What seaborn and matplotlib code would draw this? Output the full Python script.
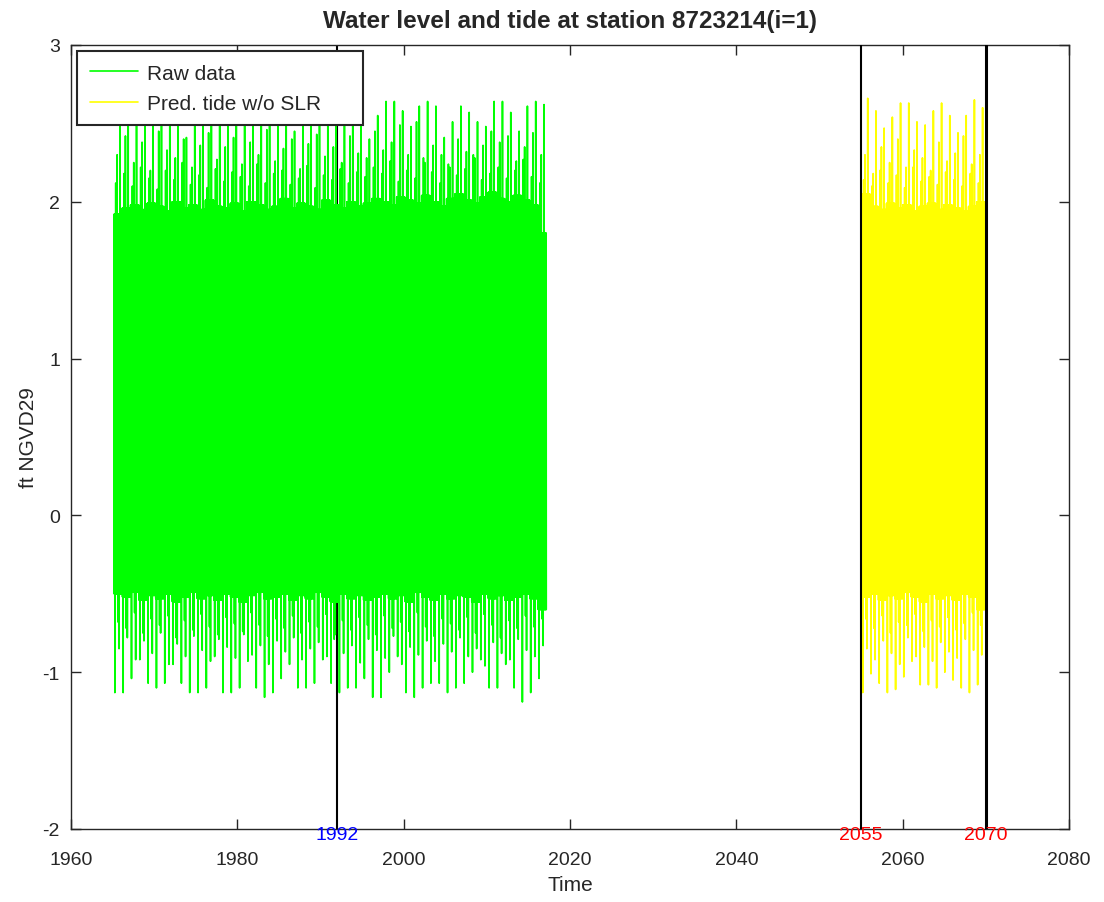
"""
plot.py

Water level and tide at station 8723214 (raw data and predicted tide)
"""

import numpy as np
import pandas as pd
import seaborn as sns
from matplotlib import pyplot as plt

sns.set_style('white')
plt.rcParams['font.family'] = ['Liberation Sans', 'DejaVu Sans']
plt.rcParams['axes.unicode_minus'] = False
narrow = ['Liberation Sans Narrow', 'Liberation Sans', 'DejaVu Sans']

#------------------------------------------------------------------------------
# Data (one block per year)
#------------------------------------------------------------------------------
raw_start, raw_end = 1965.17, 2017.17
raw_hi_main = [2.48, 2.60, 2.62, 2.55, 2.60, 2.63, 2.55, 2.60, 2.41, 2.60,
               2.62, 2.55, 2.63, 2.60, 2.50, 2.61, 2.63, 2.58, 2.60, 2.62,
               2.52, 2.45, 2.60, 2.63, 2.60, 2.50, 2.60, 2.63, 2.60, 2.55,
               2.40, 2.55, 2.64, 2.64, 2.58, 2.48, 2.61, 2.64, 2.61, 2.41,
               2.51, 2.61, 2.57, 2.51, 2.48, 2.64, 2.64, 2.57, 2.45, 2.61,
               2.64, 2.62]
raw_hi_sec = [2.30, 2.42, 2.25, 2.38, 2.20, 2.45, 2.33, 2.28, 2.40, 2.22,
              2.36, 2.44, 2.27, 2.35, 2.41, 2.24, 2.38, 2.30, 2.46, 2.26,
              2.34, 2.40, 2.21, 2.37, 2.43, 2.29, 2.35, 2.25, 2.42, 2.31,
              2.28, 2.45, 2.33, 2.38, 2.49, 2.30, 2.51, 2.25, 2.36, 2.30,
              2.22, 2.40, 2.32, 2.28, 2.36, 2.45, 2.38, 2.42, 2.26, 2.35,
              2.44, 2.30]
raw_hi_minor = [2.12, 2.18, 2.10, 2.22, 2.15, 2.08, 2.20, 2.14, 2.25, 2.11,
                2.17, 2.09, 2.21, 2.13, 2.19, 2.16, 2.10, 2.24, 2.12, 2.18,
                2.20, 2.11, 2.15, 2.23, 2.09, 2.17, 2.14, 2.21, 2.12, 2.19,
                2.16, 2.22, 2.18, 2.26, 2.13, 2.20, 2.15, 2.28, 2.19, 2.12,
                2.24, 2.17, 2.21, 2.30, 2.14, 2.18, 2.22, 2.15, 2.20, 2.27,
                2.16, 2.12]
raw_band_hi = [1.92, 1.96, 1.98, 1.95, 1.99, 1.97, 1.94, 2.00, 1.96, 1.98,
               1.95, 2.01, 1.97, 1.96, 1.99, 1.94, 2.00, 1.98, 1.95, 1.97,
               2.02, 1.96, 1.99, 1.97, 1.95, 2.01, 1.98, 1.96, 2.00, 1.97,
               1.99, 2.02, 2.00, 1.98, 2.03, 2.01, 1.99, 2.04, 2.00, 1.97,
               2.02, 2.05, 2.01, 1.99, 2.03, 2.06, 2.02, 2.00, 2.04, 2.01,
               1.98, 1.80]
raw_lo_main = [-1.13, -1.13, -1.04, -0.92, -1.07, -1.10, -1.07, -0.95, -1.07, -1.13,
               -1.13, -1.10, -0.90, -1.13, -1.13, -1.10, -0.93, -1.10, -1.16, -1.13,
               -1.04, -0.95, -1.10, -1.10, -1.07, -0.92, -1.07, -1.13, -1.10, -1.10,
               -1.04, -1.16, -1.16, -1.00, -0.90, -1.13, -1.16, -1.10, -1.07, -1.07,
               -1.13, -1.10, -1.07, -1.00, -0.92, -1.10, -1.10, -0.95, -1.10, -1.19,
               -1.13, -1.04]
raw_lo_sec = [-0.85, -0.78, -0.92, -0.80, -0.88, -0.75, -0.95, -0.82, -0.90, -0.77,
              -0.86, -0.93, -0.79, -0.84, -0.91, -0.76, -0.89, -0.83, -0.95, -0.80,
              -0.87, -0.78, -0.92, -0.85, -0.81, -0.90, -0.76, -0.88, -0.83, -0.94,
              -0.79, -0.86, -0.91, -0.77, -0.95, -0.84, -0.89, -0.80, -0.93, -0.82,
              -0.87, -0.78, -0.90, -0.85, -0.96, -0.81, -0.88, -0.92, -0.79, -0.86,
              -0.90, -0.83]
raw_lo_minor = [-0.68, -0.72, -0.62, -0.75, -0.66, -0.70, -0.64, -0.78, -0.67, -0.73,
                -0.63, -0.71, -0.76, -0.65, -0.69, -0.74, -0.62, -0.70, -0.77, -0.66,
                -0.72, -0.64, -0.75, -0.68, -0.71, -0.63, -0.79, -0.67, -0.73, -0.65,
                -0.70, -0.76, -0.64, -0.72, -0.68, -0.74, -0.62, -0.71, -0.77, -0.66,
                -0.69, -0.73, -0.65, -0.75, -0.63, -0.70, -0.78, -0.67, -0.72, -0.64,
                -0.71, -0.66]
raw_band_lo = [-0.50, -0.52, -0.49, -0.54, -0.51, -0.53, -0.50, -0.55, -0.52, -0.49,
               -0.53, -0.51, -0.54, -0.50, -0.52, -0.55, -0.51, -0.49, -0.53, -0.52,
               -0.50, -0.54, -0.51, -0.53, -0.49, -0.52, -0.55, -0.50, -0.53, -0.51,
               -0.54, -0.52, -0.50, -0.53, -0.51, -0.55, -0.49, -0.52, -0.54, -0.50,
               -0.53, -0.51, -0.52, -0.55, -0.50, -0.53, -0.51, -0.54, -0.52, -0.50,
               -0.53, -0.60]

pred_start, pred_end = 2055.1, 2069.9
pred_hi_main = [2.66, 2.58, 2.47, 2.54, 2.63, 2.63, 2.51, 2.49, 2.58, 2.63,
                2.55, 2.44, 2.55, 2.65, 2.60]
pred_hi_sec = [2.30, 2.18, 2.35, 2.25, 2.40, 2.22, 2.33, 2.28, 2.20, 2.38,
               2.26, 2.31, 2.42, 2.24, 2.30]
pred_hi_minor = [2.14, 2.10, 2.20, 2.12, 2.17, 2.09, 2.22, 2.13, 2.16, 2.11,
                 2.19, 2.14, 2.10, 2.18, 2.12]
pred_band_hi = [2.05, 1.97, 1.95, 1.99, 1.96, 1.98, 1.94, 1.97, 1.99, 1.95,
                1.98, 1.96, 1.94, 1.97, 2.00]
pred_lo_main = [-1.13, -1.01, -1.07, -1.13, -1.11, -1.03, -0.93, -1.08, -1.08, -1.10,
                -1.00, -1.05, -1.10, -1.13, -1.08]
pred_lo_sec = [-0.85, -0.92, -0.80, -0.88, -0.95, -0.78, -0.90, -0.84, -0.93, -0.81,
               -0.87, -0.91, -0.79, -0.86, -0.89]
pred_lo_minor = [-0.66, -0.72, -0.64, -0.75, -0.68, -0.70, -0.63, -0.74, -0.67, -0.71,
                 -0.65, -0.73, -0.69, -0.62, -0.70]
pred_band_lo = [-0.52, -0.50, -0.54, -0.51, -0.53, -0.49, -0.52, -0.55, -0.50, -0.53,
                -0.51, -0.54, -0.50, -0.52, -0.60]

marks = [1992, 2055, 2070]
mark_colors = ['blue', 'red', 'red']

#------------------------------------------------------------------------------
# Build the dense tide trace: a fine up/down swing inside each yearly band,
# with the read peaks and troughs placed at fixed slots of the year
#------------------------------------------------------------------------------
def tide_trace(t0, t1, hi_main, hi_sec, hi_minor, band_hi,
               lo_main, lo_sec, lo_minor, band_lo, n=48):
    nyear = len(hi_main)
    blk = (t1 - t0) / nyear
    k = np.arange(n)
    ts, vs = [], []
    for j in range(nyear):
        v = np.where(k % 2 == 0, band_hi[j], band_lo[j]).astype(float)
        v[5] = lo_main[j]
        v[10] = hi_minor[j]
        v[18] = hi_sec[j]
        v[23] = lo_minor[j]
        v[29] = lo_sec[j]
        v[34] = hi_main[j]
        ts.append(t0 + (j + k / n) * blk)
        vs.append(v)
    return pd.DataFrame({'time': np.concatenate(ts), 'level': np.concatenate(vs)})

raw = tide_trace(raw_start, raw_end, raw_hi_main, raw_hi_sec, raw_hi_minor,
                 raw_band_hi, raw_lo_main, raw_lo_sec, raw_lo_minor, raw_band_lo)
pred = tide_trace(pred_start, pred_end, pred_hi_main, pred_hi_sec, pred_hi_minor,
                  pred_band_hi, pred_lo_main, pred_lo_sec, pred_lo_minor, pred_band_lo)

#------------------------------------------------------------------------------
# Plot figure
#------------------------------------------------------------------------------
fig = plt.figure(figsize=(11.04, 9.03), dpi=100)
ax = fig.add_axes([71/1104, 1-830/903, 998/1104, 784/903])

ax.axvline(marks[0], color='black', lw=1.5, zorder=1)
sns.lineplot(data=raw, x='time', y='level', color='#00ff00', lw=1.2,
             estimator=None, sort=False, label='Raw data', ax=ax, zorder=2)
sns.lineplot(data=pred, x='time', y='level', color='#ffff00', lw=1.2,
             estimator=None, sort=False, label='Pred. tide w/o SLR', ax=ax, zorder=2)
ax.axvline(marks[1], color='black', lw=1.5, zorder=3)
ax.axvline(marks[2], color='black', lw=2.2, zorder=3)

for m, c in zip(marks, mark_colors):
    ax.annotate(str(m), (m, -2), xytext=(0, -4), textcoords='offset points',
                color=c, ha='center', va='center', fontsize=14,
                family=narrow, zorder=4)

ax.set_xlim(1960, 2080)
ax.set_ylim(-2, 3)
ax.set_xticks(range(1960, 2081, 20))
ax.set_yticks(range(-2, 4))
ax.tick_params(direction='in', length=7, width=1.0, top=True, right=True,
               bottom=True, left=True, labelsize=14, colors='#262626')
ax.tick_params(axis='x', pad=16)
ax.tick_params(axis='y', pad=8)
for lab in ax.get_xticklabels() + ax.get_yticklabels():
    lab.set_family(narrow)
for s in ax.spines.values():
    s.set_visible(True)
    s.set_color('#262626')
    s.set_linewidth(1.0)

ax.set_xlabel('Time', fontsize=15, color='#262626', family=narrow, labelpad=5)
ax.set_ylabel('ft NGVD29', fontsize=15, color='#262626', family=narrow, labelpad=3)
ax.set_title('Water level and tide at station 8723214(i=1)', fontsize=17.5,
             fontweight='bold', pad=13)

leg = ax.legend(loc='upper left', bbox_to_anchor=(6/998, 0, 286/998, 1-6/784),
                mode='expand', borderaxespad=0, fancybox=False, framealpha=1,
                edgecolor='#262626', fontsize=15, handlelength=2.35,
                handletextpad=0.4, labelspacing=0.55, borderpad=0.6)
leg.get_frame().set_linewidth(1.5)
leg.set_zorder(5)

#------------------------------------------------------------------------------
# Save figure
#------------------------------------------------------------------------------
plt.savefig('out.png', dpi=100)
